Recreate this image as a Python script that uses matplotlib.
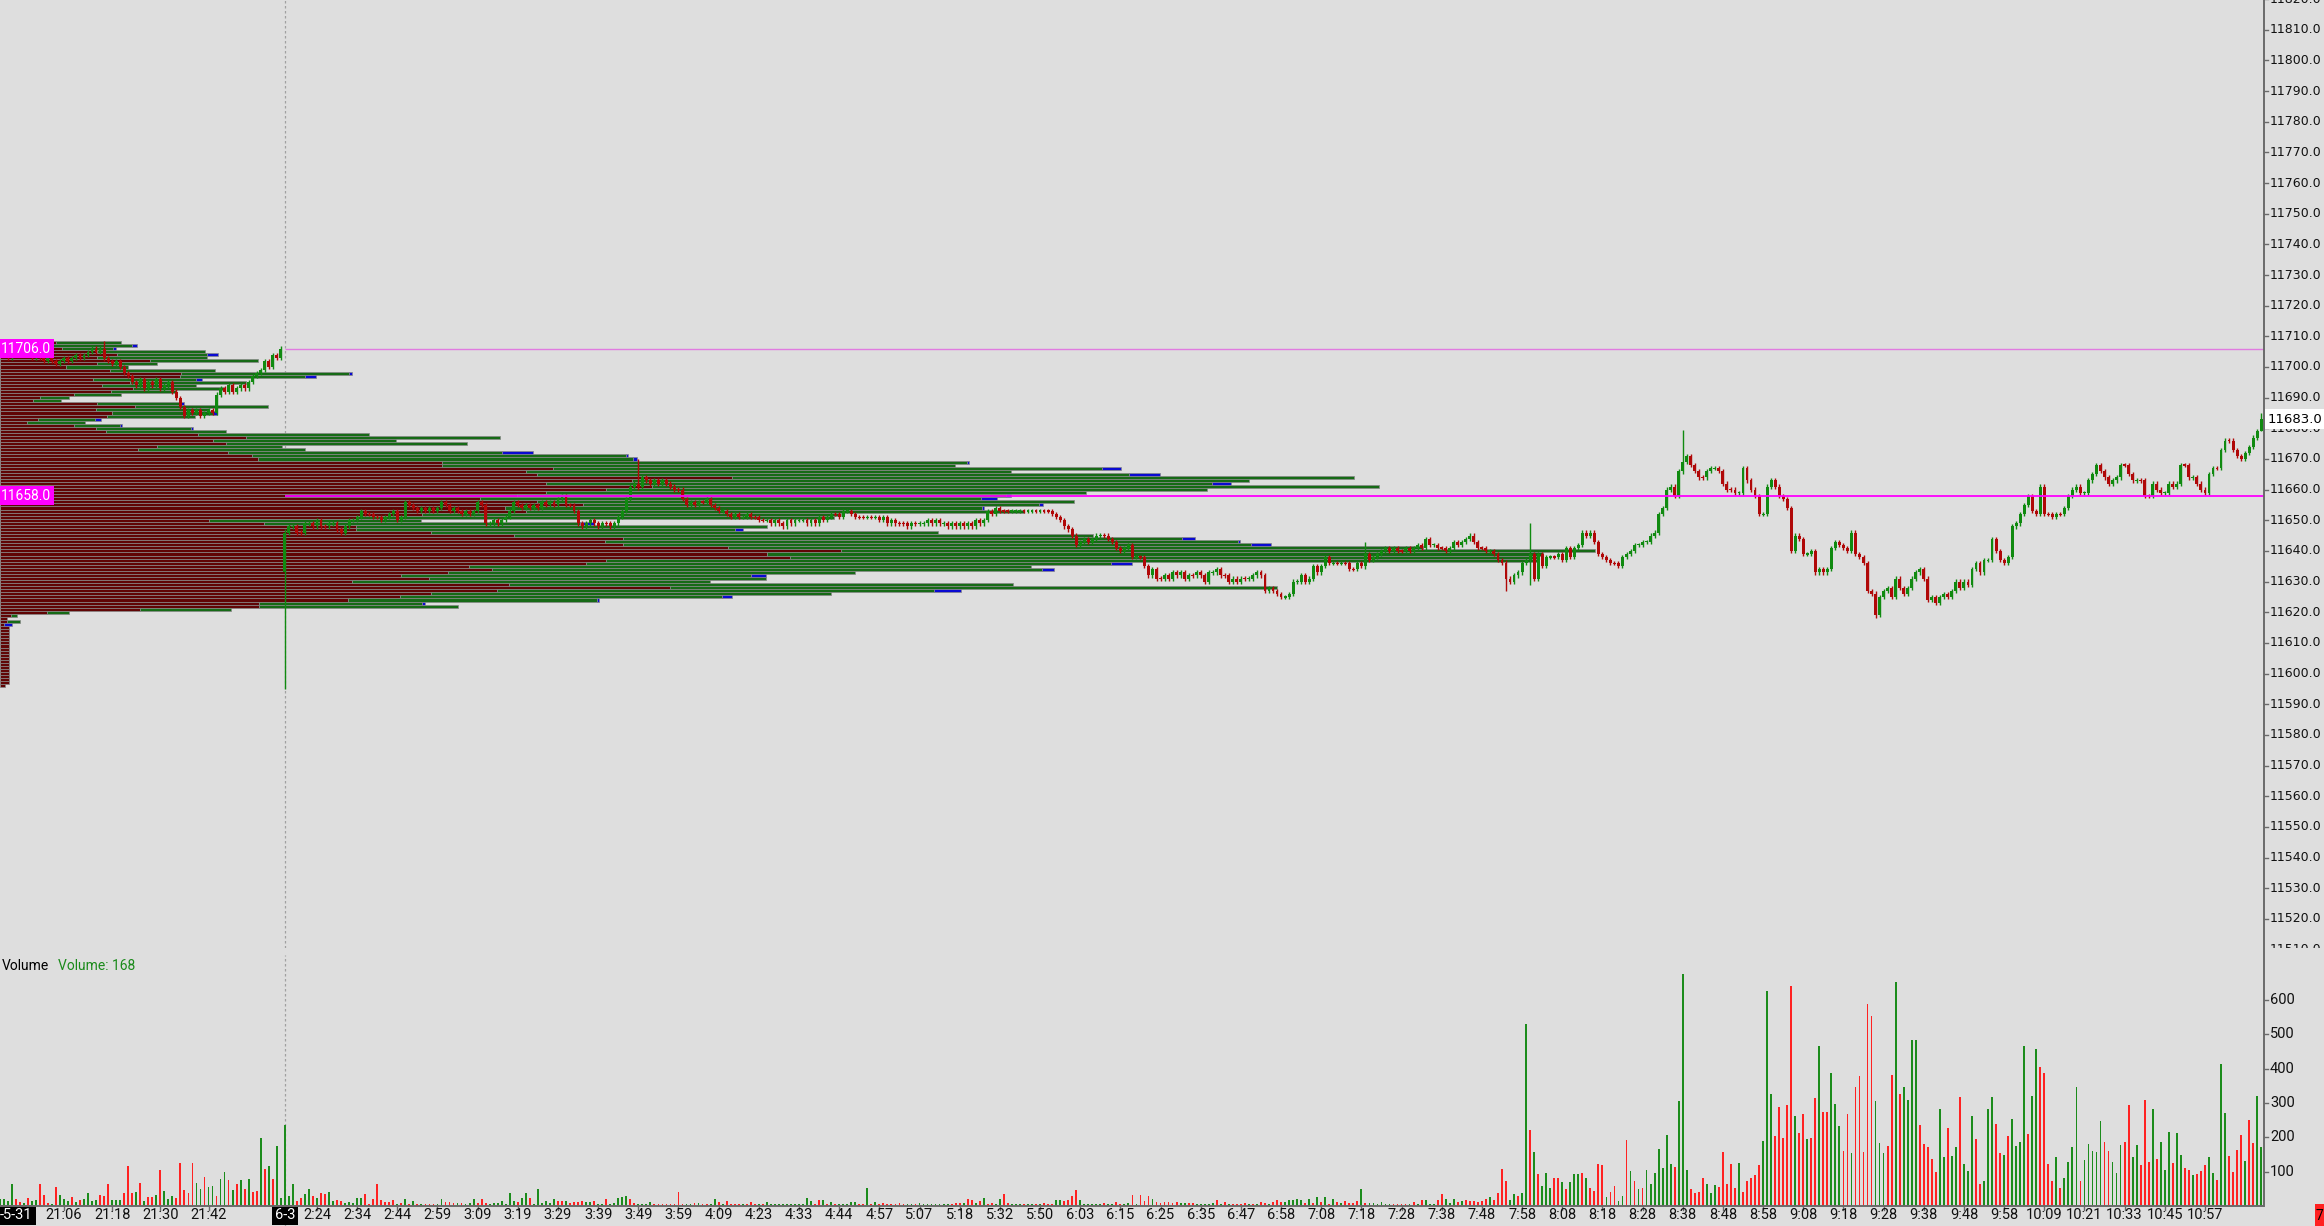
import matplotlib.pyplot as plt
from matplotlib.lines import Line2D
from matplotlib.patches import Rectangle

# =========================
# Data
# =========================

# previous session (5-31), one-minute closes, bars 0-71
prev_close = [
    11704, 11705, 11704, 11703, 11704, 11705, 11706, 11705, 11704, 11703,
    11704, 11703, 11702, 11703, 11702, 11701, 11702, 11703, 11702, 11703,
    11704, 11703, 11704, 11705, 11706, 11705, 11706, 11703, 11702, 11701,
    11702, 11700, 11698, 11697, 11695, 11694, 11696, 11693, 11695, 11694,
    11696, 11693, 11694, 11695, 11692, 11690, 11687, 11684, 11686, 11685,
    11686, 11684, 11685, 11686, 11685, 11691, 11693, 11692, 11694, 11692,
    11693, 11694, 11693, 11695, 11697, 11698, 11699, 11702, 11700, 11704,
    11703, 11706,
]

# session 6-3, bars 72-564
sess_open = 11633
sess_close = [
    11646, 11648, 11648, 11646, 11646, 11649, 11649, 11648, 11650, 11648,  # 72
    11648, 11649, 11649, 11647, 11646, 11648, 11650, 11650, 11651, 11653,  # 82
    11652, 11652, 11651, 11651, 11650, 11651, 11652, 11653, 11650, 11651,  # 92
    11656, 11655, 11654, 11653, 11654, 11653, 11654, 11653, 11654, 11656,  # 102
    11655, 11653, 11654, 11653, 11652, 11653, 11652, 11653, 11656, 11655,  # 112
    11649, 11649, 11650, 11649, 11650, 11651, 11653, 11656, 11655, 11654,  # 122
    11655, 11654, 11655, 11654, 11656, 11655, 11656, 11655, 11657, 11658,  # 132
    11655, 11655, 11653, 11649, 11648, 11649, 11650, 11649, 11648, 11649,  # 142
    11649, 11648, 11649, 11651, 11653, 11657, 11661, 11662, 11661, 11664,  # 152
    11663, 11662, 11663, 11662, 11663, 11662, 11661, 11660, 11660, 11657,  # 162
    11655, 11656, 11655, 11656, 11656, 11657, 11655, 11654, 11653, 11653,  # 172
    11652, 11651, 11652, 11651, 11651, 11652, 11651, 11651, 11650, 11650,  # 182
    11650, 11649, 11650, 11649, 11648, 11650, 11649, 11650, 11650, 11650,  # 192
    11649, 11650, 11649, 11651, 11650, 11651, 11652, 11652, 11651, 11653,  # 202
    11653, 11652, 11651, 11651, 11651, 11651, 11651, 11651, 11650, 11651,  # 212
    11649, 11650, 11649, 11649, 11649, 11648, 11649, 11649, 11649, 11649,  # 222
    11650, 11649, 11650, 11649, 11649, 11648, 11649, 11648, 11649, 11648,  # 232
    11649, 11648, 11650, 11649, 11650, 11653, 11652, 11654, 11653, 11653,  # 242
    11653, 11653, 11653, 11653, 11653, 11653, 11653, 11653, 11653, 11653,  # 252
    11653, 11652, 11651, 11650, 11648, 11647, 11645, 11642, 11643, 11644,  # 262
    11643, 11644, 11645, 11645, 11645, 11644, 11643, 11641, 11640, 11641,  # 272
    11642, 11638, 11638, 11638, 11635, 11632, 11634, 11631, 11631, 11632,  # 282
    11631, 11633, 11632, 11633, 11631, 11632, 11632, 11633, 11632, 11630,  # 292
    11633, 11633, 11634, 11632, 11632, 11630, 11631, 11630, 11631, 11631,  # 302
    11631, 11632, 11633, 11632, 11627, 11628, 11627, 11626, 11625, 11625,  # 312
    11626, 11630, 11630, 11632, 11630, 11631, 11635, 11633, 11635, 11638,  # 322
    11636, 11636, 11636, 11636, 11636, 11634, 11634, 11636, 11635, 11639,  # 332
    11637, 11638, 11639, 11640, 11641, 11640, 11641, 11640, 11640, 11641,  # 342
    11640, 11641, 11642, 11641, 11644, 11642, 11642, 11641, 11641, 11640,  # 352
    11641, 11643, 11642, 11643, 11644, 11645, 11643, 11641, 11641, 11640,  # 362
    11640, 11639, 11637, 11636, 11631, 11630, 11632, 11633, 11636, 11637,  # 372
    11639, 11631, 11639, 11635, 11638, 11638, 11638, 11639, 11637, 11641,  # 382
    11638, 11641, 11642, 11646, 11645, 11646, 11643, 11639, 11638, 11637,  # 392
    11636, 11636, 11635, 11638, 11639, 11640, 11642, 11642, 11643, 11643,  # 402
    11645, 11646, 11652, 11654, 11660, 11661, 11658, 11666, 11669, 11671,  # 412
    11668, 11666, 11664, 11664, 11666, 11667, 11667, 11666, 11662, 11660,  # 422
    11660, 11659, 11659, 11667, 11663, 11660, 11658, 11652, 11652, 11661,  # 432
    11663, 11661, 11658, 11657, 11654, 11640, 11645, 11644, 11639, 11639,  # 442
    11640, 11633, 11634, 11633, 11634, 11641, 11643, 11642, 11641, 11640,  # 452
    11646, 11639, 11638, 11636, 11627, 11626, 11619, 11625, 11627, 11628,  # 462
    11625, 11631, 11628, 11626, 11628, 11631, 11633, 11634, 11631, 11624,  # 472
    11625, 11623, 11625, 11626, 11625, 11627, 11630, 11628, 11630, 11629,  # 482
    11634, 11636, 11633, 11637, 11637, 11644, 11640, 11637, 11636, 11638,  # 492
    11648, 11649, 11652, 11655, 11658, 11653, 11652, 11661, 11652, 11652,  # 502
    11651, 11652, 11652, 11654, 11658, 11660, 11661, 11659, 11659, 11663,  # 512
    11665, 11668, 11666, 11664, 11662, 11663, 11664, 11668, 11668, 11665,  # 522
    11663, 11663, 11663, 11658, 11658, 11662, 11660, 11659, 11659, 11662,  # 532
    11661, 11662, 11668, 11668, 11664, 11664, 11662, 11660, 11659, 11665,  # 542
    11667, 11667, 11673, 11676, 11676, 11673, 11671, 11670, 11672, 11674,  # 552
    11677, 11679, 11683,                                                   # 562
]

# long wicks (low, high) that stand out
big_wicks = {27: (11702, 11708.5), 72: (11595, 11647), 160: (11660, 11670),
             341: (11634, 11643), 376: (11627, 11637), 382: (11629, 11649),
             420: (11665, 11679.5), 468: (11618, 11627), 564: (11679, 11685)}

# volume per bar, and bar direction (g = up, r = down)
volume = [
    20, 19, 19, 15, 65, 21, 12, 10, 24, 15, 17, 63, 32, 10, 5, 56, 33, 19, 15, 27,
    13, 17, 19, 37, 14, 17, 33, 29, 65, 17, 17, 17, 37, 117, 39, 41, 66, 15, 27, 27,
    31, 104, 44, 21, 29, 22, 124, 46, 39, 124, 66, 50, 85, 56, 58, 29, 78, 100, 76, 47,
    63, 75, 49, 80, 42, 44, 199, 107, 117, 80, 176, 24,
    # 72-105
    235, 29, 63, 15, 24, 34, 50, 29, 24, 37, 34, 42, 15, 17, 15, 10, 13, 10, 24, 24,
    34, 7, 21, 63, 17, 13, 13, 18, 5, 10, 21, 7, 15, 7,
    # 106-200
    5, 5, 7, 7, 7, 20, 12, 12, 10, 8, 8, 5, 8, 19, 8, 19, 10, 5, 8, 10,
    15, 5, 37, 15, 12, 24, 39, 24, 5, 49, 10, 15, 10, 21, 15, 15, 15, 10, 12, 12,
    15, 12, 12, 15, 5, 5, 21, 5, 10, 24, 27, 29, 19, 10, 5, 5, 5, 12, 5, 7,
    7, 7, 5, 7, 41, 7, 7, 7, 10, 10, 7, 5, 5, 19, 12, 5, 15, 7, 5, 5,
    5, 7, 12, 5, 5, 5, 12, 5, 5, 5, 5, 5, 5, 5, 5,
    # 201-398
    5, 24, 15, 7, 17, 17, 5, 13, 7, 7, 7, 7, 13, 13, 5, 7, 51, 5, 13, 5,
    10, 5, 5, 5, 8, 5, 5, 7, 5, 8, 5, 5, 7, 7, 5, 5, 5, 7, 10, 10,
    8, 19, 17, 10, 15, 23, 7, 10, 7, 21, 34, 10, 5, 7, 5, 5, 5, 5, 5, 5,
    8, 5, 5, 17, 17, 15, 17, 29, 47, 17, 7, 7, 7, 7, 5, 10, 5, 5, 13, 5,
    5, 10, 31, 5, 31, 15, 29, 19, 13, 10, 13, 13, 10, 13, 10, 8, 10, 8, 5, 5,
    5, 5, 10, 17, 5, 13, 5, 7, 7, 7, 10, 7, 5, 7, 13, 10, 7, 13, 17, 13,
    13, 17, 17, 19, 17, 10, 21, 10, 27, 13, 27, 5, 21, 13, 10, 15, 8, 8, 15, 50,
    8, 8, 10, 7, 13, 5, 5, 7, 5, 7, 7, 5, 13, 5, 17, 17, 5, 5, 17, 34,
    19, 10, 19, 13, 15, 17, 15, 15, 13, 15, 19, 26, 17, 39, 107, 73, 17, 34, 29, 39,
    529, 220, 158, 92, 58, 95, 51, 83, 83, 71, 49, 71, 92, 92, 97, 83, 51, 44,
    # 399-564
    121, 119, 27, 42, 59, 15, 29, 192, 102, 74, 49, 51, 105, 63, 97, 165, 110, 207, 122, 113,
    306, 676, 105, 49, 39, 42, 81, 64, 39, 61, 54, 158, 64, 122, 51, 126, 42, 73, 83, 90,
    119, 189, 627, 326, 204, 289, 197, 294, 641, 263, 212, 267, 194, 197, 314, 466, 275, 273, 388, 297,
    233, 161, 267, 155, 348, 379, 156, 588, 553, 306, 184, 155, 176, 381, 652, 325, 348, 309, 483, 483,
    235, 180, 171, 136, 100, 284, 142, 226, 146, 173, 317, 122, 102, 262, 195, 64, 73, 283, 317, 239,
    155, 149, 205, 252, 175, 187, 466, 209, 320, 458, 405, 386, 122, 73, 144, 51, 83, 129, 173, 347,
    73, 134, 181, 160, 157, 247, 185, 160, 127, 97, 178, 187, 294, 142, 177, 119, 308, 129, 283, 137,
    187, 105, 215, 126, 214, 148, 110, 105, 90, 92, 102, 119, 142, 95, 76, 413, 270, 146, 98, 163,
    207, 131, 250, 184, 320, 171,
]
vol_dir = (
    "gggggrrgrg" "grrrgrgggr" "grggggrrrg" "ggrrrgrgrr" "grgggrrrrr" "ggrggrggrg" "rgrgrrgrgr" "gg"
    "gggrrggrgr" "rggrrggggg" "rrrrrrrrgr" "grgr"
    "grrrggrrrg" "rgggrrrggg" "ggggrggrgg" "ggggrrgrrr" "rggrggrggg" "ggrrggggrr" "rrrrrrggrg"
    "rrggrgrrrr" "grrrgrgggg" "ggggg"
    "gggrrgrgrg" "ggggrrgrgr" "rrrrrrggrg" "gggggggrrr" "grrgrgrrgg" "rrgggrggrg" "rrrggrrrrg"
    "gggggrggrr" "ggrgrrrgrr" "rrrrggrrgg" "gggrgrgrrr" "rgrgrrgrrr" "gggggrgrgr" "grgrgrrrrg"
    "rggggggrrr" "rgrgrgggrr" "gggrgrrrrr" "rgrrrrggrg" "grgrgggrrg" "rgggrgrr"
    "rrgrrggrgr" "grgggggggr" "gggrrrrggg" "rrrrrgrrrr" "rgggrrrrrg" "rrgrrgrrgg" "grrgrrrrrg"
    "ggrrgrgggg" "rrrrrggrgg" "rgggrrgggr" "rgrggggrgg" "rrrrgrgggg" "rgggggrrgg" "grrggrrrgr"
    "gggrggrrgr" "rrggrggrrr" "rgrrgg"
)

# volume profile, one row per index point (top 11708 down to 11596)
profile_price = list(range(11708, 11595, -1))
profile_sell = [
    56, 51, 62, 97, 117, 97, 150, 97, 66, 110,
    181, 180, 93, 130, 102, 133, 111, 74, 40, 33,
    97, 135, 96, 112, 107, 38, 27, 74, 96, 106,
    198, 246, 213, 226, 157, 138, 228, 252, 258, 442,
    442, 553, 526, 537, 732, 632, 546, 652, 606, 546,
    517, 480, 537, 583, 505, 526, 422, 356, 209, 264,
    356, 356, 431, 514, 623, 605, 623, 728, 841, 767,
    790, 606, 586, 469, 492, 448, 401, 429, 352, 509,
    670, 497, 431, 400, 348, 259, 259, 140, 47, 11,
    7, 7, 4, 9, 9, 9, 9, 9, 9, 9,
    9, 9, 9, 9, 9, 9, 9, 9, 9, 9,
    9, 9, 5,
]
profile_total = [
    121, 137, 116, 205, 218, 207, 258, 157, 128, 215,
    352, 316, 202, 246, 196, 224, 176, 121, 69, 61,
    184, 268, 209, 217, 195, 101, 85, 122, 193, 226,
    369, 500, 396, 467, 282, 305, 533, 628, 637, 969,
    955, 1121, 1011, 1160, 1354, 1249, 1231, 1379, 1207, 1086,
    1011, 997, 1074, 1043, 984, 1024, 841, 834, 421, 594,
    767, 743, 938, 1093, 1195, 1240, 1271, 1423, 1595, 1543,
    1538, 1538, 1132, 1031, 1054, 855, 766, 766, 710, 1013,
    1277, 961, 831, 732, 599, 425, 458, 231, 69, 17,
    7, 20, 12, 9, 9, 9, 9, 9, 9, 9,
    9, 9, 9, 9, 9, 9, 9, 9, 9, 9,
    9, 9, 5,
]
profile_blue = [
    0, 5, 3, 0, 11, 0, 0, 0, 0, 0,
    3, 11, 6, 0, 0, 0, 0, 0, 0, 0,
    3, 0, 0, 4, 0, 6, 0, 2, 2, 0,
    0, 0, 0, 0, 0, 0, 31, 2, 4, 2,
    0, 19, 0, 31, 0, 0, 19, 0, 0, 0,
    5, 16, 0, 4, 2, 0, 0, 0, 0, 14,
    0, 8, 0, 0, 13, 2, 20, 0, 0, 0,
    0, 0, 21, 0, 12, 0, 15, 0, 0, 0,
    0, 27, 0, 10, 2, 3, 0, 0, 0, 0,
    0, 0, 8, 0, 0, 0, 0, 0, 0, 0,
    0, 0, 0, 0, 0, 0, 0, 0, 0, 0,
    0, 0, 0,
]

# time axis
tick_bars = [17, 29, 41, 53, 72] + list(range(80, 551, 10))
tick_text = ['21:06', '21:18', '21:30', '21:42', '6-3',
             '2:24', '2:34', '2:44', '2:59', '3:09', '3:19', '3:29', '3:39', '3:49', '3:59',
             '4:09', '4:23', '4:33', '4:44', '4:57', '5:07', '5:18', '5:32', '5:50', '6:03',
             '6:15', '6:25', '6:35', '6:47', '6:58', '7:08', '7:18', '7:28', '7:38', '7:48',
             '7:58', '8:08', '8:18', '8:28', '8:38', '8:48', '8:58', '9:08', '9:18', '9:28',
             '9:38', '9:48', '9:58', '10:09', '10:21', '10:33', '10:45', '10:57']
session_bar = 72
levels = [11706, 11658]
last_price = 11683
last_volume = 168
price_ticks = list(range(11510, 11821, 10))
vol_ticks = [100, 200, 300, 400, 500, 600]

# =========================
# Layout (canvas pixels)
# =========================
W, H, DPI = 2324, 1226, 100
BAR_PX = 4.017
X0_PX = -4.4
AXIS_PX = 2264
PRICE_BOTTOM_PX = 948
PRICE_TOP, PRICE_BOT = 11819.7, 11510.5
VOL_TOP_PX = 955
VOL_BASE_PX = 1206
VOL_PX = 0.3433

BG = '#dedede'
AXIS_C = '#6a6a6a'
UP, DN = '#108a10', '#b00808'
VUP, VDN = '#1c8c1c', '#ff2222'
P_RED, P_GRN, P_BLUE, P_EDGE = '#600505', '#166a16', '#0a0ad2', '#888888'
NARROW = ['Roboto', 'DejaVu Sans']


def px2bar(px):
    return (px - X0_PX) / BAR_PX


def px2vol(px):
    return (VOL_BASE_PX - px) / VOL_PX


fig = plt.figure(figsize=(W / DPI, H / DPI), dpi=DPI)
fig.patch.set_facecolor(BG)
ax = fig.add_axes([0, 1 - PRICE_BOTTOM_PX / H, 1, PRICE_BOTTOM_PX / H])
axv = fig.add_axes([0, 0, 1, (H - VOL_TOP_PX) / H], sharex=ax)
ax.set_axis_off()
axv.set_axis_off()
ax.set_xlim(px2bar(0), px2bar(W))
ax.set_ylim(PRICE_BOT, PRICE_TOP)
axv.set_ylim(px2vol(H), px2vol(VOL_TOP_PX))

# session divider
ax.axvline(session_bar, color='#a0a0a0', lw=0.9, ls=(0, (2, 2)), zorder=0.5)
axv.axvline(session_bar, color='#a0a0a0', lw=0.9, ls=(0, (2, 2)), zorder=0.5)

# =========================
# Volume profile
# =========================
x_left = px2bar(0)
sc = 1 / BAR_PX
red_w = [r * sc for r in profile_sell]
ax.barh(profile_price, red_w, left=x_left, height=1.0, color=P_RED,
        edgecolor=P_EDGE, linewidth=0.5, zorder=1)
g_p, g_l, g_w = [], [], []
b_p, b_l, b_w = [], [], []
for p, r, t, b in zip(profile_price, profile_sell, profile_total, profile_blue):
    if t - b > r:
        g_p.append(p)
        g_l.append(x_left + r * sc)
        g_w.append((t - b - r) * sc)
    if b > 0:
        b_p.append(p)
        b_l.append(x_left + (t - b) * sc)
        b_w.append(b * sc)
ax.barh(g_p, g_w, left=g_l, height=1.0, color=P_GRN, edgecolor=P_EDGE, linewidth=0.5, zorder=1)
ax.barh(b_p, b_w, left=b_l, height=1.0, color=P_BLUE, edgecolor=P_EDGE, linewidth=0.5, zorder=1)

# =========================
# Candles
# =========================
closes = prev_close + sess_close
n = len(closes)
idx = list(range(n))
opens = [closes[0]] + closes[:-1]
opens[session_bar] = sess_open
highs = [max(o, c) + 0.7 for o, c in zip(opens, closes)]
lows = [min(o, c) - 0.7 for o, c in zip(opens, closes)]
for k, (lo, hi) in big_wicks.items():
    lows[k], highs[k] = lo, hi

cols = []
for i in idx:
    if closes[i] > opens[i]:
        cols.append(UP)
    elif closes[i] < opens[i]:
        cols.append(DN)
    else:
        cols.append(UP if vol_dir[i] == 'g' else DN)
bottoms = [min(o, c) if o != c else c - 0.2 for o, c in zip(opens, closes)]
heights = [abs(c - o) if o != c else 0.4 for o, c in zip(opens, closes)]
ax.vlines(idx, lows, highs, colors=cols, lw=1.0, zorder=3)
ax.bar(idx, heights, bottom=bottoms, width=0.72, color=cols, lw=0, zorder=3)

# levels
x_lvl0 = px2bar(285)
x_axis = px2bar(AXIS_PX)
ax.hlines(levels[0], x_lvl0, x_axis, color='#e07be0', lw=1.0, zorder=4)
ax.hlines(levels[1], x_lvl0, x_axis, color='#ff00ff', lw=1.3, zorder=4)
for lv in levels:
    ax.text(px2bar(1), lv, f'{lv:.1f}', color='white', fontsize=10, family=NARROW,
            va='center', ha='left', zorder=6,
            bbox=dict(boxstyle='square,pad=0.18', fc='#ff00ff', ec='none'))

# price axis
for p in price_ticks:
    ax.text(px2bar(AXIS_PX + 6), p, f'{p:.1f}', fontsize=9, va='center', ha='left',
            color='#111111', clip_on=True, zorder=5)
    ax.plot([x_axis, px2bar(AXIS_PX + 4)], [p, p], color=AXIS_C, lw=1, zorder=5)
ax.text(px2bar(AXIS_PX + 4), last_price, f'{last_price:.1f}', fontsize=9.5, va='center',
        ha='left', color='black', zorder=7,
        bbox=dict(boxstyle='square,pad=0.25', fc='white', ec='none'))

# =========================
# Volume pane
# =========================
vcols = [VUP if d == 'g' else VDN for d in vol_dir]
axv.bar(list(range(len(volume))), volume, width=0.45, color=vcols, lw=0, zorder=2)
axv.hlines(0, px2bar(0), x_axis, color=AXIS_C, lw=1.4, zorder=4)
for v in vol_ticks:
    axv.text(px2bar(AXIS_PX + 6), v, str(v), fontsize=10.5, family=NARROW,
             va='center', ha='left', color='#111111')
    axv.plot([x_axis, px2bar(AXIS_PX + 4)], [v, v], color=AXIS_C, lw=1)

axv.text(px2bar(2), px2vol(966), 'Volume', fontsize=10, family=NARROW, va='center', ha='left')
axv.text(px2bar(58), px2vol(966), f'Volume: {last_volume}', fontsize=10, family=NARROW,
         va='center', ha='left', color='#1a8a1a')

# time axis
y_lab = px2vol(1208)
for b, t in zip(tick_bars, tick_text):
    axv.plot([b, b], [0, px2vol(VOL_BASE_PX + 4)], color=AXIS_C, lw=1, clip_on=False)
    if t == '6-3':
        axv.text(b, y_lab, t, fontsize=10.5, family=NARROW, ha='center', va='top',
                 color='white', bbox=dict(boxstyle='square,pad=0.2', fc='black', ec='none'))
    else:
        axv.text(b, y_lab, t, fontsize=10.5, family=NARROW, ha='center', va='top', color='#111111')
axv.text(px2bar(0), y_lab, '-5-31', fontsize=10.5, family=NARROW, ha='left', va='top',
         color='white', bbox=dict(boxstyle='square,pad=0.2', fc='black', ec='none'))

# right axis line
fig.add_artist(Line2D([AXIS_PX / W, AXIS_PX / W], [1 - VOL_BASE_PX / H, 1],
                      color=AXIS_C, lw=1.4))
# small red marker bottom right
fig.add_artist(Rectangle((2315 / W, 0), 9 / W, 22 / H, transform=fig.transFigure,
                         fc='#ff2020', ec='none'))
fig.text(2319 / W, 10 / H, '7', fontsize=10, family=NARROW, ha='center', va='center')

fig.savefig('out.png', dpi=DPI, facecolor=BG)
